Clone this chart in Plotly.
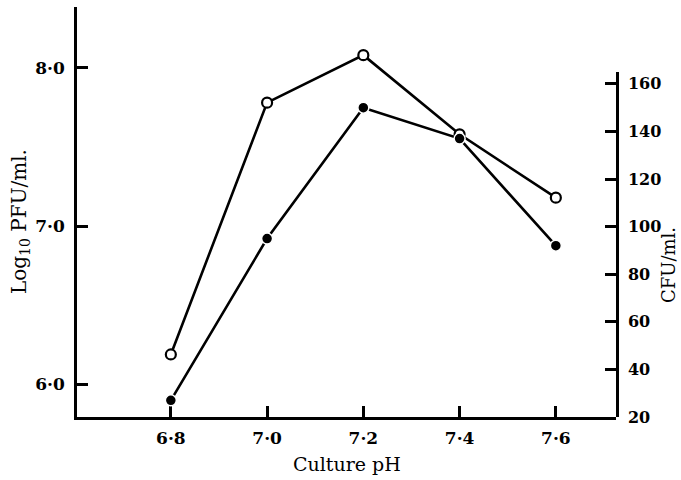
import plotly.graph_objects as go

ph = [6.8, 7.0, 7.2, 7.4, 7.6]
log_pfu = [6.19, 7.78, 8.08, 7.58, 7.18]      # open circles, left axis
cfu = [27, 95, 150, 137, 92]                  # filled circles, right axis

x_ticks = [6.8, 7.0, 7.2, 7.4, 7.6]
x_ticktext = ["6·8", "7·0", "7·2", "7·4", "7·6"]
left_ticks = [6.0, 7.0, 8.0]
left_ticktext = ["6·0", "7·0", "8·0"]
right_ticks = [20, 40, 60, 80, 100, 120, 140, 160]

tickfont = dict(family="DejaVu Serif", size=17, color="black", weight="bold")
serif = "DejaVu Serif"

fig = go.Figure()
fig.add_trace(go.Scatter(
    x=ph, y=log_pfu, mode="lines+markers", xaxis="x", yaxis="y",
    line=dict(color="black", width=2.6),
    marker=dict(symbol="circle", size=10, color="white",
                line=dict(color="black", width=2.2)),
    showlegend=False))
fig.add_trace(go.Scatter(
    x=ph, y=cfu, mode="lines+markers", xaxis="x", yaxis="y2",
    line=dict(color="black", width=2.6),
    marker=dict(symbol="circle", size=11, color="black",
                line=dict(color="white", width=1.5)),
    showlegend=False))

fig.update_layout(
    width=681, height=480,
    margin=dict(l=77, r=65, t=7, b=63),
    paper_bgcolor="white", plot_bgcolor="rgba(0,0,0,0)",
    xaxis=dict(range=[6.605, 7.725], tickvals=x_ticks, ticktext=x_ticktext,
               showgrid=False, zeroline=False, showline=True,
               linecolor="black", linewidth=2.5,
               ticks="inside", ticklen=11, tickwidth=2.5, tickcolor="black",
               tickfont=tickfont, ticklabelstandoff=4),
    yaxis=dict(range=[5.795, 8.384], tickvals=left_ticks, ticktext=left_ticktext,
               showgrid=False, zeroline=False, showline=True,
               linecolor="black", linewidth=2.5,
               ticks="inside", ticklen=11, tickwidth=2.5, tickcolor="black",
               tickfont=tickfont, ticklabelstandoff=6),
    yaxis2=dict(range=[20, 165], tickvals=right_ticks,
                side="right", anchor="x",
                domain=[0, 0.8415],
                showgrid=False, zeroline=False, showline=True,
                linecolor="black", linewidth=2.5,
                ticks="inside", ticklen=11, tickwidth=2.5, tickcolor="black",
                tickfont=dict(family="DejaVu Serif", size=16, color="black", weight="bold"),
                ticklabelstandoff=6),
    annotations=[
        dict(text="Log<sub>10</sub> PFU/ml.", textangle=-90,
             xref="paper", yref="paper", x=-57/539, y=(417-222)/410,
             xanchor="center", yanchor="middle", showarrow=False,
             font=dict(family=serif, size=20, color="black")),
        dict(text="CFU/ml.", textangle=-90,
             xref="paper", yref="paper", x=(668-77)/539, y=(417-265)/410,
             xanchor="center", yanchor="middle", showarrow=False,
             font=dict(family=serif, size=18, color="black")),
        dict(text="Culture pH",
             xref="paper", yref="paper", x=(347-77)/539, y=-(464-417)/410,
             xanchor="center", yanchor="middle", showarrow=False,
             font=dict(family=serif, size=19, color="black")),
    ],
)

fig.write_html("out.html", config={"displayModeBar": False},
               post_script="document.body.style.margin='0';")
